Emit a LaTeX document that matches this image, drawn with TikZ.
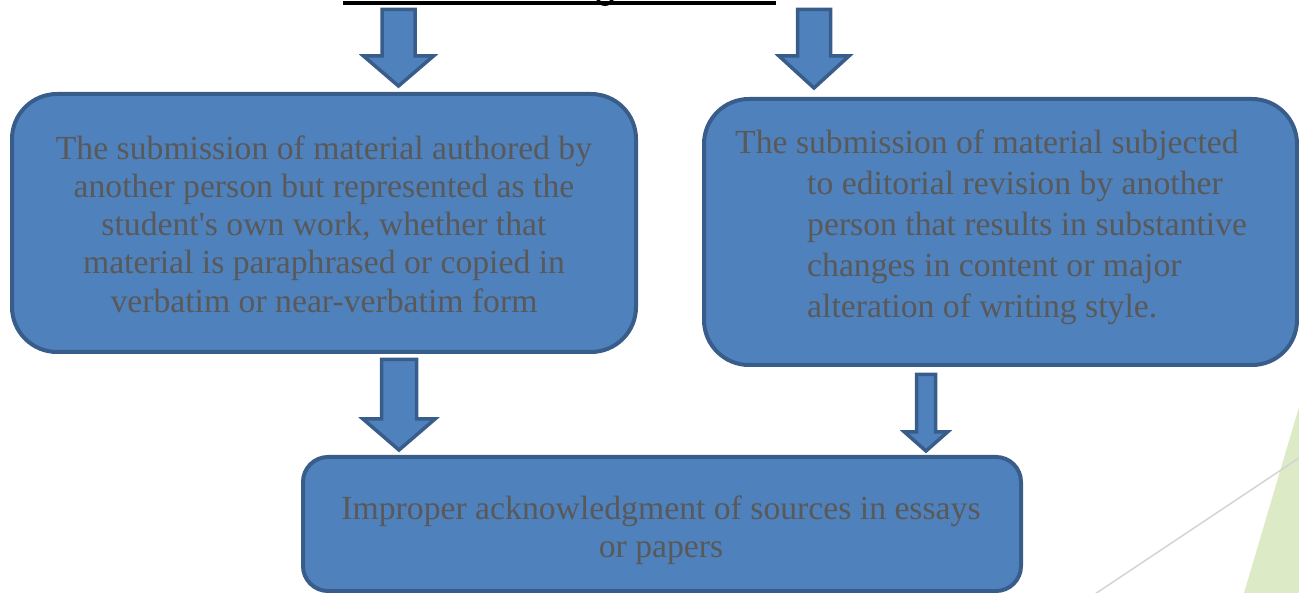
\documentclass[tikz,border=0pt]{standalone}
\usepackage{fontspec}
\setmainfont{Liberation Serif}
\definecolor{boxfill}{HTML}{4F81BD}
\definecolor{boxline}{HTML}{385D8A}
\definecolor{txtgray}{HTML}{595959}
\definecolor{leaf}{HTML}{DCEBC6}
\definecolor{thinline}{HTML}{D3D3D3}
\newcommand{\blockarrow}[6]{%
  \draw[barrow] ({#1-#5},#2) -- ({#1+#5},#2) -- ({#1+#5},#3) -- ({#1+#6},#3) -- (#1,#4) -- ({#1-#6},#3) -- ({#1-#5},#3) -- cycle;}
\begin{document}
\begin{tikzpicture}[x=1pt,y=-1pt,
  box/.style={draw=boxline, fill=boxfill, line width=4pt, rounded corners=45pt, inner sep=0pt, outer sep=0pt, anchor=north west},
  barrow/.style={draw=boxline, fill=boxfill, line width=3.5pt, line join=miter},
  txt/.style={text=txtgray, inner sep=0pt}]
\useasboundingbox (0,0) rectangle (1299,593);
\clip (0,0) rectangle (1299,593);
% decoration
\fill[leaf] (1299,407) -- (1244,593) -- (1299,593) -- cycle;
\draw[thinline, line width=1.5pt] (1080,604) -- (1320,444);
% title underline (cut off)
\draw[line width=3.5pt] (343,3) -- (776,3);
\draw[line width=3pt] (597,-3) .. controls (599,7) and (611,7) .. (613,-3);
% boxes
\node[box, minimum width=624pt, minimum height=258pt] (left) at (12,94) {};
\node[box, minimum width=593pt, minimum height=266pt] (right) at (704,99) {};
\node[box, minimum width=718pt, minimum height=134pt, rounded corners=25pt] (bottom) at (303,457) {};
% arrows
\blockarrow{398.5}{9.5}{56}{86}{16.5}{35}
\blockarrow{814}{9.5}{56}{88}{16.5}{35}
\blockarrow{399}{359.5}{419}{450}{17.5}{36}
\blockarrow{926}{374.5}{432}{451}{9.5}{21.5}
% texts
\node[txt, align=center, font=\fontsize{33.7}{38.3}\selectfont] (lefttext) at (324,224)
 {The submission of material authored by\\another person but represented as the\\student\textquotesingle s own work, whether that\\material is paraphrased or copied in\\verbatim or near-verbatim form};
\node[txt, align=left, anchor=west, font=\fontsize{33.7}{41}\selectfont] (righttext) at (735,227)
 {The submission of material subjected\\\hspace*{72pt}to editorial revision by another\\\hspace*{72pt}person that results in substantive\\\hspace*{72pt}changes in content or major\\\hspace*{72pt}alteration of writing style.};
\node[txt, align=center, font=\fontsize{33.7}{38}\selectfont] (bottomtext) at (661,530)
 {Improper acknowledgment of sources in essays\\or papers};
\end{tikzpicture}
\end{document}
